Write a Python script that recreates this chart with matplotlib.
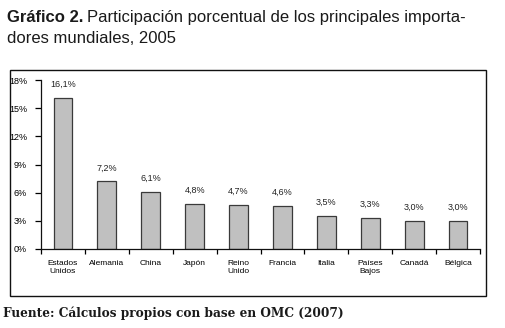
import numpy as np
import matplotlib
matplotlib.use('Agg')
import matplotlib.pyplot as plt
from matplotlib.patches import Rectangle

# data
paises = ['Estados\nUnidos', 'Alemania', 'China', 'Japón', 'Reino\nUnido',
          'Francia', 'Italia', 'Países\nBajos', 'Canadá', 'Bélgica']
participacion = [16.1, 7.2, 6.1, 4.8, 4.7, 4.6, 3.5, 3.3, 3.0, 3.0]
etiquetas = ['16,1%', '7,2%', '6,1%', '4,8%', '4,7%', '4,6%', '3,5%', '3,3%', '3,0%', '3,0%']
yticks = [0, 3, 6, 9, 12, 15, 18]

plt.rcParams['font.family'] = ['Liberation Sans', 'DejaVu Sans']

fig = plt.figure(figsize=(5.05, 3.28), dpi=100)
ax = fig.add_axes([41/505, 1 - 249/328, 439/505, 169/328])

x = np.arange(len(paises))
ax.bar(x, participacion, width=0.43, color='#c0c0c0', edgecolor='#3a3a3a', linewidth=0.9)
for xi, v, lab in zip(x, participacion, etiquetas):
    ax.text(xi, v + 0.95, lab, ha='center', va='bottom', fontsize=6.5, color='#222222')

ax.set_xlim(-0.5, len(paises) - 0.5)
ax.set_ylim(0, 18)
ax.set_yticks(yticks)
ax.set_yticklabels([f'{t}%' for t in yticks], fontsize=6.5)
ax.set_xticks(x)
ax.set_xticklabels(paises, fontsize=6, linespacing=1.1)
ax.set_xticks(np.arange(len(paises) + 1) - 0.5, minor=True)
ax.tick_params(axis='x', which='major', length=0, pad=8)
ax.tick_params(axis='x', which='minor', length=3.5, width=0.9, direction='out')
ax.tick_params(axis='y', length=4, width=0.9, direction='out', pad=6)
for s in ['top', 'right']:
    ax.spines[s].set_visible(False)
for s in ['left', 'bottom']:
    ax.spines[s].set_linewidth(0.9)
    ax.spines[s].set_color('#111111')

# outer frame
fig.patches.append(Rectangle((10/505, 1 - 296/328), 476/505, 226/328,
                             transform=fig.transFigure, fill=False,
                             edgecolor='#111111', linewidth=1.0))

# title with bold lead
t1 = fig.text(7/505, 1 - 22/328, 'Gráfico 2.', fontsize=12, fontweight='bold',
              va='baseline', color='#1a1a1a')
fig.canvas.draw()
bb = t1.get_window_extent()
fig.text((bb.x1 + 4)/505, 1 - 22/328, 'Participación porcentual de los principales importa-',
         fontsize=12, va='baseline', color='#1a1a1a')
fig.text(7/505, 1 - 43/328, 'dores mundiales, 2005', fontsize=12, va='baseline', color='#1a1a1a')

fig.text(3/505, 1 - 317/328, 'Fuente: Cálculos propios con base en OMC (2007)',
         fontsize=8.7, fontweight='bold', family='DejaVu Serif', va='baseline', color='#1a1a1a')

fig.savefig('out.png', dpi=100)
